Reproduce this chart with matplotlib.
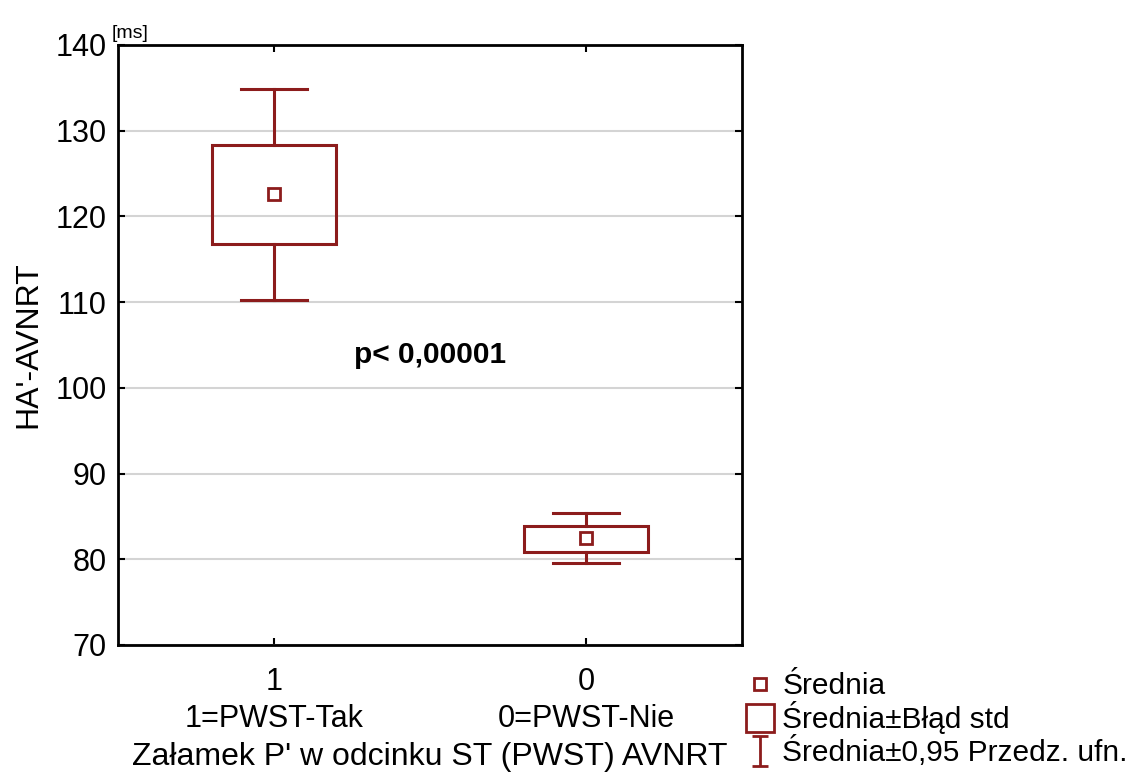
import numpy as np
import matplotlib.pyplot as plt
from matplotlib.lines import Line2D
from matplotlib.patches import Rectangle
from matplotlib.path import Path

plt.rcParams['font.family'] = ['Liberation Sans', 'DejaVu Sans']

# groups and summary statistics (ms)
groups = ['1\n1=PWST-Tak', '0\n0=PWST-Nie']
means = [122.6, 82.5]
se_low = [116.8, 80.9]
se_high = [128.3, 83.9]
ci_low = [110.3, 79.6]
ci_high = [134.9, 85.4]

col = '#8c1c1c'
box_w = 0.4
cap_w = 0.21

fig = plt.figure(figsize=(11.4, 7.82), dpi=100)
ax = fig.add_axes([118 / 1140, 137 / 782, 624 / 1140, 600 / 782])

x = np.arange(len(groups))
for i in x:
    # whiskers: 0.95 confidence interval
    ax.plot([i, i], [ci_low[i], se_low[i]], color=col, lw=2.2)
    ax.plot([i, i], [se_high[i], ci_high[i]], color=col, lw=2.2)
    for yv in (ci_low[i], ci_high[i]):
        ax.plot([i - cap_w / 2, i + cap_w / 2], [yv, yv], color=col, lw=2.2)
    # box: mean +/- standard error
    ax.add_patch(Rectangle((i - box_w / 2, se_low[i]), box_w, se_high[i] - se_low[i],
                           fill=False, edgecolor=col, lw=2.2, zorder=3))
    # mean marker
    ax.plot(i, means[i], 's', ms=9, mfc='white', mec=col, mew=2.0, zorder=4)

ax.set_xlim(-0.5, 1.5)
ax.set_ylim(70, 140)
ax.set_yticks(np.arange(70, 141, 10))
ax.set_xticks(x)
ax.set_xticklabels(groups, fontsize=22, linespacing=1.3)
ax.tick_params(axis='y', labelsize=22, pad=8)
ax.tick_params(axis='x', pad=16)
ax.tick_params(direction='in', length=5, width=1.5, top=True, right=True)
ax.grid(axis='y', color='#d4d4d4', lw=1.5)
ax.set_axisbelow(True)
for s in ax.spines.values():
    s.set_linewidth(2.0)

ax.set_xlabel("Załamek P' w odcinku ST (PWST) AVNRT", fontsize=23, labelpad=6)
ax.set_ylabel("HA'-AVNRT", fontsize=23, labelpad=9)
ax.text(0.5, 103.8, 'p< 0,00001', fontsize=21.5, fontweight='bold', ha='center', va='center')
ax.text(-0.52, 140.4, '[ms]', fontsize=14, ha='left', va='bottom')

# legend symbols: small square, big square, I-beam
ibeam = Path([(-0.5, 1), (0.5, 1), (0, 1), (0, -1), (-0.5, -1), (0.5, -1)],
             [Path.MOVETO, Path.LINETO, Path.MOVETO, Path.LINETO, Path.MOVETO, Path.LINETO])
handles = [
    Line2D([], [], ls='none', marker='s', ms=8, mfc='white', mec=col, mew=2.0),
    Line2D([], [], ls='none', marker='s', ms=20, mfc='white', mec=col, mew=2.0),
    Line2D([], [], ls='none', marker=ibeam, ms=22, mec=col, mew=2.0),
]
labels = ['Średnia', 'Średnia±Błąd std', 'Średnia±0,95 Przedz. ufn.']
fig.legend(handles, labels, loc='upper left', bbox_to_anchor=(748 / 1140, 1 - 672 / 782),
           frameon=False, fontsize=21.5, handlelength=0.8, handletextpad=0.35,
           labelspacing=0.05, borderpad=0, borderaxespad=0)

fig.savefig('out.png', dpi=100)
